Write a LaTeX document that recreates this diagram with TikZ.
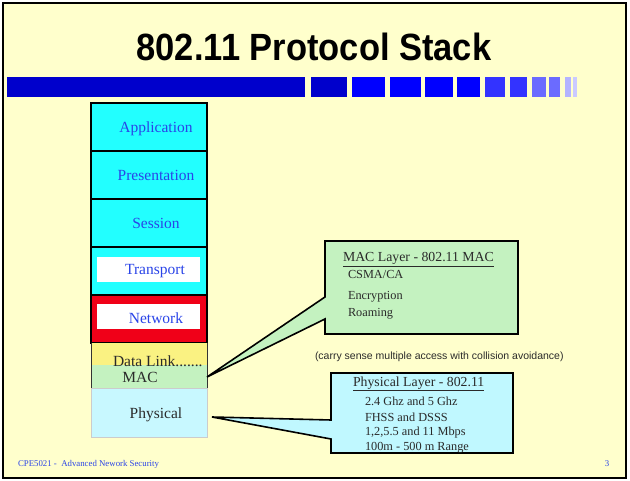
\documentclass[tikz,border=0pt]{standalone}
\usepackage{fontspec}
\setmainfont{Liberation Serif}
\newfontfamily\arialf{Liberation Sans}
\definecolor{bg}{HTML}{FFFFCC}
\definecolor{barA}{HTML}{0000CC}
\definecolor{barB}{HTML}{0000FF}
\definecolor{barC}{HTML}{3333FF}
\definecolor{barD}{HTML}{6B6BFF}
\definecolor{barE}{HTML}{B4B4FF}
\definecolor{cyanL}{HTML}{22FFFF}
\definecolor{netred}{HTML}{F00018}
\definecolor{dlyel}{HTML}{FAF282}
\definecolor{macg}{HTML}{C4F2C0}
\definecolor{phyc}{HTML}{C8F8FF}
\definecolor{phyco}{HTML}{C0F8FF}
\definecolor{txtblue}{HTML}{2A44E8}
\definecolor{dark}{HTML}{2A2A2A}
\begin{document}
\begin{tikzpicture}[x=1pt,y=-1pt,
  every node/.style={inner sep=0pt,outer sep=0pt},
  layer/.style={draw=black,line width=1.6pt,fill=cyanL,minimum width=116pt,minimum height=48pt,anchor=north west},
  whitebox/.style={fill=white,minimum width=103pt,minimum height=25pt,anchor=north west},
  stxt/.style={font=\fontsize{15.5}{16}\selectfont,text=txtblue},
  dtxt/.style={font=\fontsize{15.5}{16}\selectfont,text=dark},
  ctxt/.style={font=\fontsize{12.3}{13}\selectfont,text=dark,anchor=west},
  htxt/.style={font=\fontsize{13.8}{14}\selectfont,text=dark,anchor=west},
  callout/.style={draw=black,line width=1.6pt,line join=miter}
]
\useasboundingbox (0,0) rectangle (630,481);
\fill[white] (0,0) rectangle (630,481);
\draw[line width=2.6pt,fill=bg] (3,3) rectangle (626,478);

% title
\node[font=\arialf\bfseries\fontsize{34.5}{36}\selectfont] (title) at (314,47) {\scalebox{1}[1.1]{802.11 Protocol Stack}};

% blue bar
\fill[barA] (7,77) rectangle (305,97);
\fill[barA] (311,77) rectangle (347,97);
\fill[barB] (352,77) rectangle (385,97);
\fill[barB] (390,77) rectangle (421,97);
\fill[barB] (425,77) rectangle (453,97);
\fill[barB] (457,77) rectangle (480,97);
\fill[barC] (485,77) rectangle (505,97);
\fill[barC] (510,77) rectangle (527,97);
\fill[barD] (532,77) rectangle (546,97);
\fill[barD] (549,77) rectangle (560,97);
\fill[barE] (565,77) rectangle (571,97);
\fill[barE!70!white] (573,77) rectangle (577,97);

% stack
\node[layer] (app) at (91,103) {};
\node[layer] (pres) at (91,151) {};
\node[layer] (sess) at (91,199) {};
\node[layer] (trans) at (91,247) {};
\node[layer,fill=netred] (net) at (91,295) {};
\node[whitebox] (transw) at (97,257) {};
\node[whitebox] (netw) at (97,304) {};
\node[fill=dlyel,minimum width=116pt,minimum height=22pt,anchor=north west] (dl) at (91,343) {};
\node[fill=macg,minimum width=116pt,minimum height=23pt,anchor=north west] (mac) at (91,365) {};
\node[draw=black!20,line width=0.6pt,fill=phyc,minimum width=116pt,minimum height=49pt,anchor=north west] (phy) at (91,388) {};
\draw[black!80,line width=0.7pt] (dl.north west) -- (mac.south west);
\draw[black!80,line width=0.7pt] (dl.north east) -- (mac.south east);

\node[stxt] (appt) at (156,128.5) {Application};
\node[stxt] (prest) at (156,175.5) {Presentation};
\node[stxt] (sesst) at (156,223) {Session};
\node[stxt] (transt) at (155,271.5) {Transport};
\node[stxt] (nett) at (156,318) {Network};
\node[dtxt,anchor=west] (dlt) at (113,361) {Data Link.......};
\node[dtxt] (mact) at (140,377.5) {MAC};
\node[dtxt] (phyt) at (156,414.5) {Physical};

% MAC callout
\coordinate (mactip) at (207,377);
\node[minimum width=193pt,minimum height=93pt,anchor=north west] (macbox) at (325,241) {};
\draw[callout,fill=macg] (macbox.north west) -- (macbox.north east) -- (macbox.south east) -- (macbox.south west) -- (325,319) -- (mactip) -- (325,297) -- cycle;
\node[htxt] (mach) at (343,259.5) {\underline{MAC Layer - 802.11 MAC}};
\node[ctxt] (mac1) at (348,274) {CSMA/CA};
\node[ctxt] (mac2) at (348,297) {Encryption};
\node[ctxt] (mac3) at (348,314) {Roaming};

% carry sense note
\node[font=\arialf\fontsize{10.5}{12}\selectfont,text=dark,anchor=west] (note) at (315,357) {(carry sense multiple access with collision avoidance)};

% Physical callout
\coordinate (phytip) at (212,417);
\node[minimum width=182pt,minimum height=80pt,anchor=north west] (phybox) at (331,373) {};
\draw[callout,fill=phyco] (phybox.north west) -- (phybox.north east) -- (phybox.south east) -- (phybox.south west) -- (331,439) -- (phytip) -- (331,420) -- cycle;
\node[htxt] (phyh) at (353,384) {\underline{Physical Layer - 802.11}};
\node[ctxt] (phy1) at (365,401.5) {2.4 Ghz and 5 Ghz};
\node[ctxt] (phy2) at (365,417) {FHSS and DSSS};
\node[ctxt] (phy3) at (365,432.5) {1,2,5.5 and 11 Mbps};
\node[ctxt] (phy4) at (365,447.5) {100m - 500 m Range};

% footer
\node[font=\fontsize{8.8}{10}\selectfont,text=txtblue,anchor=west] (foot) at (18,464) {CPE5021 -\ \ Advanced Nework Security};
\node[font=\fontsize{8.8}{10}\selectfont,text=txtblue] (pg) at (607,464) {3};
\end{tikzpicture}
\end{document}
